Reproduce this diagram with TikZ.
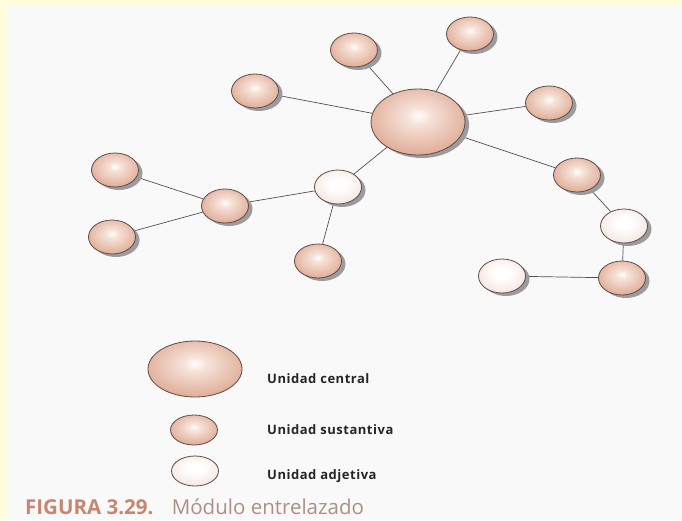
\documentclass[tikz,border=0pt]{standalone}
\usepackage{fontspec}
\setmainfont{Open Sans}
\usetikzlibrary{shapes.geometric}

% colours
\definecolor{frameY}{HTML}{FFFDDC}
\definecolor{paper}{HTML}{F9F9FA}
\definecolor{rimline}{HTML}{5C4B46}
\definecolor{wire}{HTML}{555050}
\definecolor{castgrey}{HTML}{9C9C9E}
\definecolor{sustHi}{HTML}{F7E3DA}
\definecolor{sustMid}{HTML}{DCA38B}
\definecolor{sustRim}{HTML}{D0917A}
\definecolor{adjHi}{HTML}{FFFFFF}
\definecolor{adjMid}{HTML}{F3E0DA}
\definecolor{adjRim}{HTML}{EBD0C7}
\definecolor{capBold}{HTML}{C8866F}
\definecolor{capText}{HTML}{AD8F86}

% radial fills with a soft highlight near the centre
\pgfdeclareradialshading{sustshade}{\pgfpoint{0bp}{5bp}}{%
  color(0bp)=(white); color(6bp)=(sustHi); color(32bp)=(sustMid);
  color(50bp)=(sustRim); color(90bp)=(sustRim)}
\pgfdeclareradialshading{adjshade}{\pgfpoint{0bp}{5bp}}{%
  color(0bp)=(white); color(8bp)=(adjHi); color(34bp)=(adjMid);
  color(50bp)=(adjRim); color(90bp)=(adjRim)}

\pgfdeclarelayer{paperlayer}
\pgfdeclarelayer{wirelayer}
\pgfsetlayers{paperlayer,wirelayer,main}

\tikzset{
  unit/.style={draw=rimline, line width=0.8pt},
  sust/.style={unit, shading=sustshade},
  adj/.style={unit, shading=adjshade},
  castshadow/.style={draw=none, fill=castgrey},
  link/.style={draw=wire, line width=0.7pt},
  legendtext/.style={anchor=base west, inner sep=0pt,
    font=\fontsize{13}{15}\selectfont\bfseries\addfontfeatures{LetterSpace=4}, text=black!85},
}

% a unit with its grey shadow offset down and to the right
% #1 name, #2 fill style, #3 x radius, #4 y radius, #5 x, #6 y
\newcommand\placeunit[6]{%
  \fill[castshadow] (#5+4,#6+3) ellipse [x radius=#3, y radius=#4];
  \node[ellipse, inner sep=0pt, minimum width=2*#3 pt, minimum height=2*#4 pt, #2]
    (#1) at (#5,#6) {};}

\begin{document}
\begin{tikzpicture}[x=1pt,y=-1pt]
  \useasboundingbox (0,0) rectangle (682,520);
  \begin{pgfonlayer}{paperlayer}
    \fill[frameY] (0,0) rectangle (682,520);
    \fill[paper] (8,5) rectangle (682,520);
  \end{pgfonlayer}

  % network
  \placeunit{c}{sust}{47}{33}{418}{122}
  \placeunit{t1}{sust}{23.5}{17}{354}{50}
  \placeunit{t2}{sust}{23.5}{17}{470}{34}
  \placeunit{t3}{sust}{23.5}{17}{255}{91}
  \placeunit{t4}{sust}{23.5}{17}{549}{103}
  \placeunit{r1}{sust}{23.5}{17}{577}{175}
  \placeunit{r2}{adj}{23.5}{17}{624}{226}
  \placeunit{r3}{sust}{23.5}{17}{622}{278}
  \placeunit{r4}{adj}{23.5}{17}{502}{276}
  \placeunit{a1}{adj}{23.5}{17}{338}{187}
  \placeunit{s1}{sust}{23.5}{17}{225}{206}
  \placeunit{s2}{sust}{23.5}{17}{318}{261}
  \placeunit{l1}{sust}{23.5}{17}{115}{170}
  \placeunit{l2}{sust}{23.5}{17}{112}{237}

  \begin{pgfonlayer}{wirelayer}
    \draw[link] (c) -- (t1);
    \draw[link] (c) -- (t2);
    \draw[link] (c) -- (t3);
    \draw[link] (c) -- (t4);
    \draw[link] (c) -- (a1);
    \draw[link] (c) -- (r1);
    \draw[link] (r1) -- (r2);
    \draw[link] (r2) -- (r3);
    \draw[link] (r3) -- (r4);
    \draw[link] (a1) -- (s1);
    \draw[link] (a1) -- (s2);
    \draw[link] (s1) -- (l1);
    \draw[link] (s1) -- (l2);
  \end{pgfonlayer}

  % legend
  \node[ellipse, inner sep=0pt, minimum width=94pt, minimum height=56pt, sust] (kc) at (195,369) {};
  \node[ellipse, inner sep=0pt, minimum width=47pt, minimum height=30pt, sust] (ks) at (194,430) {};
  \node[ellipse, inner sep=0pt, minimum width=47pt, minimum height=30pt, adj] (ka) at (195,471) {};
  \node[legendtext] (kct) at (267,383) {Unidad central};
  \node[legendtext] (kst) at (267,434) {Unidad sustantiva};
  \node[legendtext] (kat) at (267,479) {Unidad adjetiva};

  % caption
  \node[anchor=base west, inner sep=0pt, font=\fontsize{20.5}{22}\selectfont]
    (cap) at (25,514) {\textcolor{capBold}{\bfseries FIGURA 3.29.}\hspace{0.9em}\textcolor{capText}{Módulo entrelazado}};
\end{tikzpicture}
\end{document}
